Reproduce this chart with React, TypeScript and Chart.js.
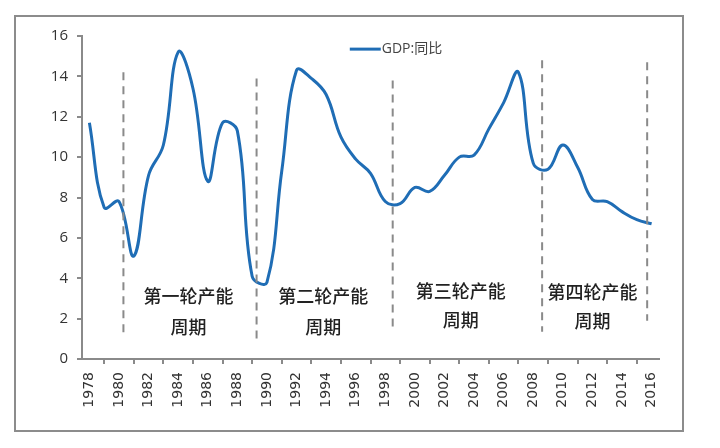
import React, { useEffect, useRef } from "react";
import { Chart, registerables } from "chart.js";

Chart.register(...registerables);

const years: string[] = [
  "1978","1979","1980","1981","1982","1983","1984","1985","1986","1987",
  "1988","1989","1990","1991","1992","1993","1994","1995","1996","1997",
  "1998","1999","2000","2001","2002","2003","2004","2005","2006","2007",
  "2008","2009","2010","2011","2012","2013","2014","2015","2016",
];
const gdpYoY: number[] = [
  11.7, 7.5, 7.8, 5.1, 9.1, 10.6, 15.2, 13.4, 8.8, 11.7,
  11.3, 4.1, 3.8, 9.3, 14.3, 13.9, 13.1, 11.0, 9.9, 9.2,
  7.8, 7.7, 8.5, 8.3, 9.1, 10.0, 10.1, 11.4, 12.7, 14.2,
  9.7, 9.4, 10.6, 9.5, 7.9, 7.8, 7.3, 6.9, 6.7,
];
const yTicks: number[] = [0, 2, 4, 6, 8, 10, 12, 14, 16];
const seriesName = "GDP:同比";

// cycle boundary dashed lines (year position, top value, bottom value)
const boundaryYears: number[] = [1980.3, 1989.3, 1998.5, 2008.6, 2015.7];
const boundaryTop: number[] = [14.2, 13.9, 13.8, 14.8, 14.7];
const boundaryBottom: number[] = [1.1, 0.85, 1.4, 1.35, 1.9];

const cycleNames: string[] = ["第一轮产能", "第二轮产能", "第三轮产能", "第四轮产能"];
const cycleSub = "周期";
const cycleYears: number[] = [1984.7, 1993.8, 2003.1, 2012.0];
const cycleLine1: number[] = [3.1, 3.1, 3.35, 3.3];
const cycleLine2: number[] = [1.6, 1.6, 1.9, 1.85];

const LINE_COLOR = "#1f6db5";
const AXIS_COLOR = "#8a8a8a";

export default function App() {
  const ref = useRef<HTMLCanvasElement | null>(null);

  useEffect(() => {
    document.body.style.margin = "0";
    const canvas = ref.current!;
    const first = parseInt(years[0], 10);

    const overlay = {
      id: "overlay",
      beforeDraw(chart: any) {
        const ctx = chart.ctx;
        ctx.save();
        ctx.fillStyle = "#ffffff";
        ctx.fillRect(0, 0, chart.width, chart.height);
        ctx.strokeStyle = "#8c8c8c";
        ctx.lineWidth = 2;
        ctx.strokeRect(15, 16, 668, 415);
        ctx.restore();
      },
      afterDatasetsDraw(chart: any) {
        const ctx = chart.ctx;
        const xs = chart.scales.x;
        const ys = chart.scales.y;
        ctx.save();
        ctx.strokeStyle = AXIS_COLOR;
        ctx.lineWidth = 2;
        ctx.setLineDash([8, 6]);
        boundaryYears.forEach((yr, i) => {
          const x = xs.getPixelForValue(yr - first);
          ctx.beginPath();
          ctx.moveTo(x, ys.getPixelForValue(boundaryTop[i]));
          ctx.lineTo(x, ys.getPixelForValue(boundaryBottom[i]));
          ctx.stroke();
        });
        ctx.setLineDash([]);
        ctx.fillStyle = "#222222";
        ctx.font = "500 18px 'Noto Sans CJK SC'";
        ctx.textAlign = "center";
        ctx.textBaseline = "middle";
        cycleNames.forEach((name, i) => {
          const x = xs.getPixelForValue(cycleYears[i] - first);
          ctx.fillText(name, x, ys.getPixelForValue(cycleLine1[i]));
          ctx.fillText(cycleSub, x, ys.getPixelForValue(cycleLine2[i]));
        });
        // legend
        const lx = xs.getPixelForValue(17.6);
        const ly = ys.getPixelForValue(15.35);
        ctx.strokeStyle = LINE_COLOR;
        ctx.lineWidth = 3;
        ctx.beginPath();
        ctx.moveTo(lx, ly);
        ctx.lineTo(lx + 31, ly);
        ctx.stroke();
        ctx.fillStyle = "#444444";
        ctx.font = "14px 'Open Sans', 'Noto Sans CJK SC'";
        ctx.textAlign = "left";
        ctx.fillText(seriesName, lx + 32, ly);
        ctx.restore();
      },
    };

    const chart = new Chart(canvas, {
      type: "line",
      data: {
        labels: years,
        datasets: [
          {
            label: seriesName,
            data: gdpYoY,
            borderColor: LINE_COLOR,
            borderWidth: 3,
            pointRadius: 0,
            tension: 0.4,
            fill: false,
          },
        ],
      },
      options: {
        animation: false,
        responsive: false,
        maintainAspectRatio: false,
        layout: { padding: { left: 0, top: 36, right: 61, bottom: 0 } },
        plugins: { legend: { display: false }, tooltip: { enabled: false } },
        scales: {
          x: {
            type: "category",
            offset: true,
            afterFit(scale: any) {
              scale.height = 89;
            },
            grid: {
              offset: true,
              drawOnChartArea: false,
              drawTicks: true,
              tickLength: 5,
              color: AXIS_COLOR,
              lineWidth: 2,
            },
            border: { color: AXIS_COLOR, width: 2 },
            ticks: {
              autoSkip: false,
              maxRotation: 90,
              minRotation: 90,
              padding: 8,
              color: "#333333",
              font: { family: "'DejaVu Sans'", size: 14 },
              callback: (_v: any, i: number) => (i % 2 === 0 ? years[i] : null),
            },
          },
          y: {
            min: 0,
            max: 16,
            afterFit(scale: any) {
              scale.width = 82;
            },
            afterBuildTicks(scale: any) {
              scale.ticks = yTicks.map((v) => ({ value: v }));
            },
            grid: {
              drawOnChartArea: false,
              drawTicks: true,
              tickLength: 5,
              color: AXIS_COLOR,
              lineWidth: 2,
            },
            border: { color: AXIS_COLOR, width: 2 },
            ticks: {
              padding: 9,
              color: "#333333",
              font: { family: "'Open Sans', 'Liberation Sans'", size: 15 },
            },
          },
        },
      },
      plugins: [overlay],
    });

    return () => chart.destroy();
  }, []);

  return (
    <div style={{ position: "fixed", left: 0, top: 0, width: 720, height: 448 }}>
      <canvas ref={ref} width={720} height={448} style={{ width: 720, height: 448 }} />
    </div>
  );
}
